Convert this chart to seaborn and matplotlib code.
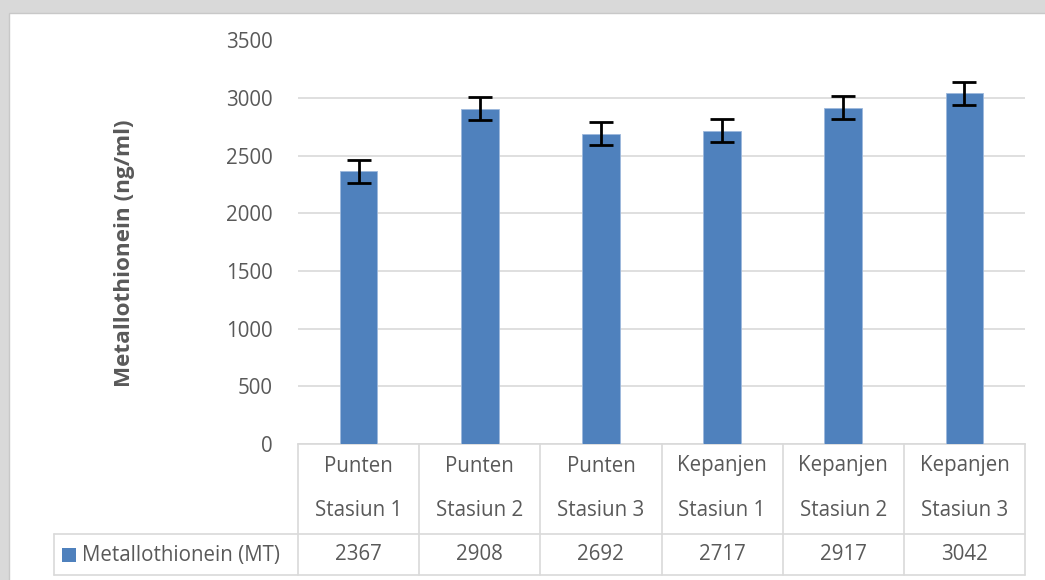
import numpy as np
import pandas as pd
import seaborn as sns
import matplotlib.pyplot as plt
import matplotlib.transforms as mtransforms
from matplotlib.lines import Line2D
from matplotlib.patches import Rectangle

# data
site_name = ["Punten", "Punten", "Punten", "Kepanjen", "Kepanjen", "Kepanjen"]
station = ["Stasiun 1", "Stasiun 2", "Stasiun 3", "Stasiun 1", "Stasiun 2", "Stasiun 3"]
mt_values = [2367, 2908, 2692, 2717, 2917, 3042]
mt_error = [100, 100, 100, 100, 100, 100]
series_name = "Metallothionein (MT)"
y_ticks = [0, 500, 1000, 1500, 2000, 2500, 3000, 3500]

df = pd.DataFrame({"label": [a + " " + b for a, b in zip(site_name, station)],
                   "value": mt_values})

sns.set_style("white")
plt.rcParams['font.family'] = ['Open Sans', 'DejaVu Sans']
txt = "#595959"
grid = "#d9d9d9"
bar_color = "#4f81bd"
fs = 14.8

W, H = 1045, 580
fig = plt.figure(figsize=(W / 100, H / 100), dpi=100, facecolor=grid)
# white chart area (the page behind it is grey)
fig.add_artist(Rectangle((9 / W, -0.1), 1, 1.1 - 13 / H, transform=fig.transFigure,
                         facecolor="white", edgecolor="#c8c8c8", lw=1, zorder=0))

ax = fig.add_axes([298 / W, 1 - 444 / H, (1025 - 298) / W, (444 - 40.5) / H])
ax.set_facecolor("none")
sns.barplot(data=df, x="label", y="value", color=bar_color, saturation=1,
            width=0.31, edgecolor="#9db8dc", linewidth=0.6, ax=ax, zorder=3)
ax.errorbar(x=np.arange(len(mt_values)), y=mt_values, yerr=mt_error, fmt="none",
            ecolor="black", elinewidth=2, capsize=8.5, capthick=2, zorder=4)

ax.set_ylim(0, 3500)
ax.set_xlim(-0.5, len(mt_values) - 0.5)
ax.set_yticks(y_ticks)
ax.set_yticklabels([str(t) for t in y_ticks], color=txt, fontsize=fs)
ax.tick_params(axis="y", length=0, pad=18)
ax.tick_params(axis="x", length=0, labelbottom=False)
ax.set_xlabel("")
ax.grid(axis="y", color=grid, lw=1.2, zorder=0)
for s in ["top", "right", "left"]:
    ax.spines[s].set_visible(False)
ax.spines["bottom"].set_color(grid)
ax.spines["bottom"].set_linewidth(1.2)
ax.set_ylabel("Metallothionein (ng/ml)", color=txt, fontsize=16.2, fontweight="bold")
ax.yaxis.set_label_coords(-0.224, 0.473)

# data table under the plot
tr = mtransforms.blended_transform_factory(ax.transData, fig.transFigure)
def fy(px):
    return 1 - px / H

y_top, y_mid, y_bot = 444, 534, 575
n = len(mt_values)
edges = np.arange(n + 1) - 0.5
for e in edges:
    ax.add_line(Line2D([e, e], [fy(y_top), fy(y_bot)], transform=tr, color=grid,
                       lw=1.2, clip_on=False))
left_fig = 54 / W
right_fig = ax.get_position().x1
for yy in (y_mid, y_bot):
    fig.add_artist(Line2D([left_fig, right_fig], [fy(yy)] * 2,
                          transform=fig.transFigure, color=grid, lw=1.2))
fig.add_artist(Line2D([left_fig, left_fig], [fy(y_mid), fy(y_bot)],
                      transform=fig.transFigure, color=grid, lw=1.2))

for i in range(n):
    ax.text(i, fy(466), site_name[i], transform=tr, ha="center", va="center",
            color=txt, fontsize=fs)
    ax.text(i, fy(511), station[i], transform=tr, ha="center", va="center",
            color=txt, fontsize=fs)
    ax.text(i, fy(555), str(mt_values[i]), transform=tr, ha="center", va="center",
            color=txt, fontsize=fs)

fig.add_artist(Rectangle((62 / W, fy(562)), 14 / W, 14 / H, transform=fig.transFigure,
                         facecolor=bar_color, edgecolor="none"))
fig.text(82 / W, fy(555), series_name, ha="left", va="center", color=txt, fontsize=fs)

fig.savefig("out.png", dpi=100, facecolor=fig.get_facecolor())
